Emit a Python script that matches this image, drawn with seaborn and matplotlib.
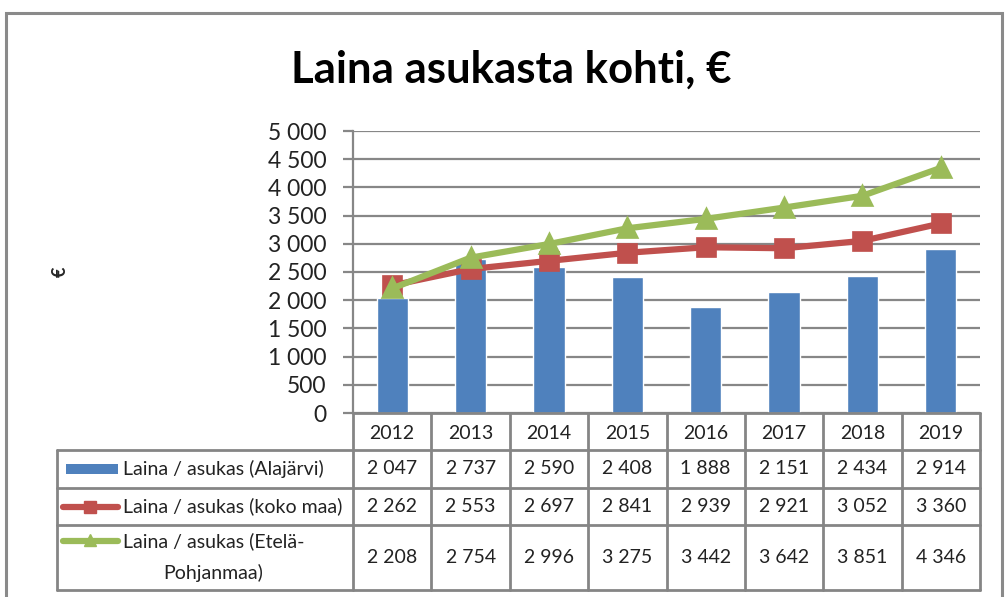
import matplotlib
matplotlib.use("Agg")
import matplotlib.pyplot as plt
import seaborn as sns
import pandas as pd
from matplotlib.lines import Line2D
from matplotlib.patches import Rectangle

years = ["2012", "2013", "2014", "2015", "2016", "2017", "2018", "2019"]
alajarvi = [2047, 2737, 2590, 2408, 1888, 2151, 2434, 2914]
koko_maa = [2262, 2553, 2697, 2841, 2939, 2921, 3052, 3360]
etela_pohjanmaa = [2208, 2754, 2996, 3275, 3442, 3642, 3851, 4346]
series_labels = ["Laina / asukas (Alajärvi)", "Laina / asukas (koko maa)",
                 "Laina / asukas (Etelä-\nPohjanmaa)"]
yticks = [0, 500, 1000, 1500, 2000, 2500, 3000, 3500, 4000, 4500, 5000]
title = "Laina asukasta kohti, €"
ylabel = "€"

BLUE, RED, GREEN = "#4F81BD", "#C0504D", "#9BBB59"
GRID = "#878787"

sns.set_theme(style="white")
plt.rcParams["font.family"] = ["Lato", "DejaVu Sans"]

W, H = 1008, 597
fig = plt.figure(figsize=(W / 100, H / 100), dpi=100)

def fx(px):
    return px / W

def fy(py):
    return 1 - py / H

x_left, x_right = 353, 980
y_top, y_bot = 131, 413
ax = fig.add_axes([fx(x_left), fy(y_bot), fx(x_right) - fx(x_left), fy(y_top) - fy(y_bot)])

df = pd.DataFrame({"year": years, "a": alajarvi, "k": koko_maa, "e": etela_pohjanmaa})
sns.barplot(data=df, x="year", y="a", color=BLUE, width=0.4, saturation=1, ax=ax, zorder=2)
sns.pointplot(data=df, x="year", y="k", color=RED, marker="s", markersize=11,
              linewidth=4.5, ax=ax, zorder=4)
sns.pointplot(data=df, x="year", y="e", color=GREEN, marker="^", markersize=12,
              linewidth=4.5, ax=ax, zorder=5)

ax.set_xlim(-0.5, len(years) - 0.5)
ax.set_ylim(0, 5000)
ax.set_yticks(yticks)
ax.set_yticklabels([f"{v:,}".replace(",", " ") for v in yticks], fontsize=16.5, color="#222222")
ax.set_xticks([])
ax.set_xlabel("")
ax.set_ylabel("")
ax.yaxis.grid(True, color=GRID, linewidth=1.6, zorder=0)
ax.set_axisbelow(True)
for s in ["top", "right", "bottom"]:
    ax.spines[s].set_visible(False)
ax.spines["left"].set_color(GRID)
ax.spines["left"].set_linewidth(1.6)
ax.tick_params(axis="y", direction="out", length=7, width=1.6, color=GRID, pad=12, left=True)

# title and y label
fig.text(fx(511), fy(70), title, ha="center", va="center", fontsize=31.5, fontweight="bold",
         color="black")
fig.text(fx(60), fy(272), ylabel, ha="center", va="center", fontsize=13, fontweight="bold",
         rotation=90)

# outer frame
fig.add_artist(Rectangle((fx(6), -0.05), fx(1002) - fx(6), fy(13) + 0.05, fill=False,
                         edgecolor="#8a8a8a", linewidth=2.2, transform=fig.transFigure))

# data table
tbl_left = 57
row_edges = [413, 450, 488, 525, 590]
col_w = (x_right - x_left) / len(years)
col_edges = [x_left + i * col_w for i in range(len(years) + 1)]
lc = "#858585"
lw = 2.0

def hline(y, x0, x1):
    fig.add_artist(Line2D([fx(x0), fx(x1)], [fy(y), fy(y)], color=lc, linewidth=lw,
                          transform=fig.transFigure))

def vline(x, y0, y1):
    fig.add_artist(Line2D([fx(x), fx(x)], [fy(y0), fy(y1)], color=lc, linewidth=lw,
                          transform=fig.transFigure))

hline(row_edges[0], x_left, x_right)
for y in row_edges[1:]:
    hline(y, tbl_left, x_right)
for x in col_edges:
    vline(x, row_edges[0], row_edges[-1])
vline(tbl_left, row_edges[1], row_edges[-1])

fs = 14
for i, yr in enumerate(years):
    cx = (col_edges[i] + col_edges[i + 1]) / 2
    fig.text(fx(cx), fy((row_edges[0] + row_edges[1]) / 2 + 2), yr, ha="center", va="center",
             fontsize=fs, color="#222222")

all_series = [alajarvi, koko_maa, etela_pohjanmaa]
for r, vals in enumerate(all_series):
    cy = (row_edges[r + 1] + row_edges[r + 2]) / 2
    for i, v in enumerate(vals):
        cx = (col_edges[i] + col_edges[i + 1]) / 2
        fig.text(fx(cx), fy(cy), f"{v:,}".replace(",", " "), ha="center", va="center",
                 fontsize=fs, color="#222222")

# legend keys in the table
cy0 = (row_edges[1] + row_edges[2]) / 2
fig.add_artist(Rectangle((fx(66), fy(cy0 + 5)), fx(118) - fx(66), fy(cy0 - 5) - fy(cy0 + 5),
                         facecolor=BLUE, edgecolor="none", transform=fig.transFigure))
cy1 = (row_edges[2] + row_edges[3]) / 2
fig.add_artist(Line2D([fx(63), fx(118)], [fy(cy1), fy(cy1)], color=RED, linewidth=4.5,
                      solid_capstyle="round", transform=fig.transFigure))
fig.add_artist(Line2D([fx(90)], [fy(cy1)], color=RED, marker="s", markersize=9,
                      linestyle="none", transform=fig.transFigure))
cy2 = 541
fig.add_artist(Line2D([fx(63), fx(118)], [fy(cy2), fy(cy2)], color=GREEN, linewidth=4.5,
                      solid_capstyle="round", transform=fig.transFigure))
fig.add_artist(Line2D([fx(90)], [fy(cy2 - 1)], color=GREEN, marker="^", markersize=8,
                      linestyle="none", transform=fig.transFigure))

fig.text(fx(123), fy(cy0), series_labels[0], ha="left", va="center", fontsize=fs, color="#222222")
fig.text(fx(123), fy(cy1), series_labels[1], ha="left", va="center", fontsize=fs, color="#222222")
l3 = series_labels[2].split("\n")
fig.text(fx(123), fy(541), l3[0], ha="left", va="center", fontsize=fs, color="#222222")
fig.text(fx(163), fy(573), l3[1], ha="left", va="center", fontsize=fs, color="#222222")

fig.savefig("out.png", dpi=100, facecolor="white")
